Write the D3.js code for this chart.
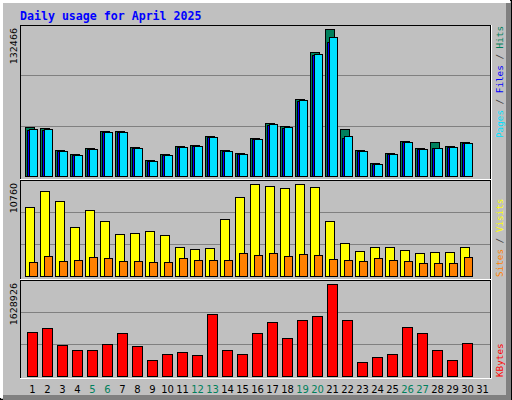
<!DOCTYPE html>
<html><head><meta charset="utf-8">
<script src="https://cdn.jsdelivr.net/npm/d3@7"></script>
<style>body{margin:0;background:#fff}svg{display:block}</style>
</head><body><svg id="c" width="512" height="400"></svg>
<script>
const days = d3.range(1, 32);
const weekend = [5,6,12,13,19,20,26,27];
const hits  = [44154,43253,23429,19824,25231,40550,40550,26132,14418,19824,27033,27934,36044,23429,20725,34242,47759,45055,69385,111738,132466,42352,23429,11714,20725,31539,25231,30637,27033,30637];
const files = [41900,41900,22100,18500,23900,39200,39200,24800,13100,18500,25700,26600,34700,22100,19400,32900,46400,43700,68000,109400,120749,34242,22100,10400,19400,30200,23900,24800,25700,29300];
const pages = [42352,42352,22528,18923,24330,39649,39649,25231,13517,18923,26132,27033,35143,22528,19824,33341,46858,44154,68484,109936,125254,36044,22528,10813,19824,30637,24330,25231,26132,29736];
const visits= [8035,9906,8737,5696,7684,6398,4877,4994,5228,4760,3357,3123,3240,6632,9205,10720,10491,10257,10760,10374,6398,3825,2889,3357,3357,3006,2655,2772,2772,3357];
const sites = [1602,2304,1719,1836,2187,2070,1719,1719,1602,1602,2070,1836,1836,1836,2655,2421,2655,2304,2538,2421,1953,1836,1719,2070,1836,1719,1485,1485,1485,2187];
const kbytes= [773000,844000,543000,455000,455000,561000,756000,526000,278000,384000,420000,366000,1092000,455000,384000,756000,951000,667000,986000,1057000,1628926,986000,243000,331000,384000,862000,756000,455000,278000,579000];
const maxLabels = ["132466","10760","1628926"];

const svg = d3.select("#c");
const mono = "DejaVu Sans Mono";
// frame
svg.append("rect").attr("width",512).attr("height",400).attr("fill","#c0c0c0");
svg.append("rect").attr("x",0.5).attr("y",0.5).attr("width",511).attr("height",399).attr("fill","none").attr("stroke","#000");
svg.append("path").attr("d","M1.5,398V1.5H510").attr("fill","none").attr("stroke","#fff").attr("stroke-width",3);
svg.append("path").attr("d","M508.5,3V397.5H3").attr("fill","none").attr("stroke","#808080").attr("stroke-width",5);

svg.append("text").attr("x",20).attr("y",20).attr("font-family",mono).attr("font-weight","bold")
  .attr("font-size",11.6).attr("fill","#0000ff").text("Daily usage for April 2025");

const x = d3.scaleBand().domain(days).range([25,490]).paddingInner(0);
const panels = [
  {top:25, bot:179, zero:176, maxY:29, max:132466, lab:maxLabels[0]},
  {top:180, bot:279, zero:276, maxY:184, max:10760, lab:maxLabels[1]},
  {top:280, bot:378, zero:376, maxY:284, max:1628926, lab:maxLabels[2]}
];
panels.forEach(p=>{
  p.y = d3.scaleLinear().domain([0,p.max]).range([p.zero,p.maxY]);
  svg.append("rect").attr("x",20.5).attr("y",p.top+0.5).attr("width",470).attr("height",p.bot-p.top).attr("fill","#c0c0c0").attr("stroke","#000");
  svg.append("path").attr("d",`M20,${p.bot+0.5}H491.5V${p.top}`).attr("stroke","#fff").attr("fill","none");
  const step=(p.zero-p.top)/3;
  [1,2].forEach(k=>svg.append("line").attr("x1",21).attr("x2",490).attr("y1",Math.round(p.zero-step*k)+0.5).attr("y2",Math.round(p.zero-step*k)+0.5).attr("stroke","#808080"));
  svg.append("text").attr("transform",`translate(17,${p.top+3}) rotate(-90)`).attr("text-anchor","end")
    .attr("font-family","DejaVu Sans").attr("font-size",9.5).attr("fill","#000").text(p.lab);
});
function bars(data, p, dx, w, fill){
  svg.append("g").selectAll("rect").data(data).join("rect")
    .attr("x",(d,i)=>x(i+1)+dx+0.5).attr("y",d=>Math.round(p.y(d))+0.5)
    .attr("width",w).attr("height",d=>p.zero-Math.round(p.y(d)))
    .attr("fill",fill).attr("stroke","#000");
}
bars(hits, panels[0], 0, 9, "#00805c");
bars(files, panels[0], 2, 8, "#0000ff");
bars(pages, panels[0], 4, 8, "#00e0ff");
bars(visits, panels[1], 0, 9, "#ffff00");
bars(sites, panels[1], 4, 8, "#ff8000");
bars(kbytes, panels[2], 2, 10, "#ff0000");

svg.append("g").selectAll("text").data(days).join("text")
  .attr("x",d=>x(d)+x.bandwidth()/2).attr("y",393).attr("text-anchor","middle")
  .attr("font-family","DejaVu Sans").attr("font-size",10)
  .attr("fill",d=>weekend.includes(d)?"#00805c":"#000").text(d=>d);

function legend(y0, parts){
  const t = svg.append("text").attr("transform",`translate(503,${y0}) rotate(-90)`)
    .attr("font-family",mono).attr("font-size",9.3);
  parts.forEach(([s,c])=>t.append("tspan").attr("fill",c).text(s));
}
legend(138, [["Pages","#00e0ff"],[" / ","#404040"],["Files","#0000ff"],[" / ","#404040"],["Hits","#00805c"]]);
legend(277, [["Sites","#ff8000"],[" / ","#404040"],["Visits","#ffff00"]]);
legend(377, [["KBytes","#ff0000"]]);
</script></body></html>
